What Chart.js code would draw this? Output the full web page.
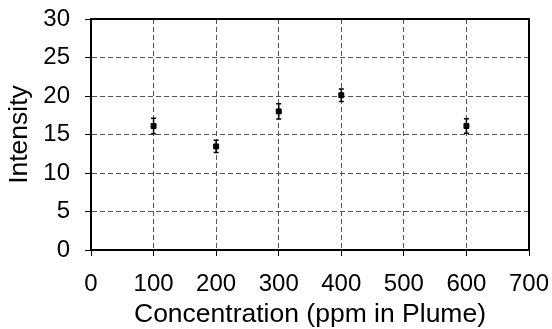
<!DOCTYPE html>
<html>
<head>
<meta charset="utf-8">
<script src="https://cdn.jsdelivr.net/npm/chart.js@4"></script>
<style>
html,body{margin:0;padding:0;background:#fff;}
#wrap{width:552px;height:329px;position:relative;}
</style>
</head>
<body>
<div id="wrap"><canvas id="c" width="552" height="329"></canvas></div>
<script>
const concentrations = [100, 200, 300, 400, 600];
const intensities = [16.1, 13.45, 18.0, 20.1, 16.1];
const errors = [1.0, 0.8, 1.0, 0.8, 0.95];
const xTicks = [0, 100, 200, 300, 400, 500, 600, 700];
const yTicks = [0, 5, 10, 15, 20, 25, 30];

const FONT = "'Liberation Sans', Arial, sans-serif";

const errorBars = {
  id: 'errorBars',
  afterDatasetsDraw(chart) {
    const ctx = chart.ctx, xs = chart.scales.x, ys = chart.scales.y;
    ctx.save();
    ctx.strokeStyle = '#000';
    ctx.lineWidth = 1.5;
    concentrations.forEach((c, i) => {
      const px = xs.getPixelForValue(c);
      const top = ys.getPixelForValue(intensities[i] + errors[i]);
      const bot = ys.getPixelForValue(intensities[i] - errors[i]);
      ctx.beginPath();
      ctx.moveTo(px, top); ctx.lineTo(px, bot);
      ctx.moveTo(px - 2.5, top); ctx.lineTo(px + 2.5, top);
      ctx.moveTo(px - 2.5, bot); ctx.lineTo(px + 2.5, bot);
      ctx.stroke();
    });
    ctx.restore();
  }
};

const frame = {
  id: 'frame',
  afterDraw(chart) {
    const a = chart.chartArea, ctx = chart.ctx;
    ctx.save();
    ctx.strokeStyle = '#000';
    ctx.lineWidth = 2;
    ctx.strokeRect(a.left, a.top, a.right - a.left, a.bottom - a.top);
    ctx.restore();
  }
};

new Chart(document.getElementById('c'), {
  type: 'scatter',
  data: {
    datasets: [{
      data: concentrations.map((x, i) => ({x: x, y: intensities[i]})),
      backgroundColor: '#000',
      borderColor: '#000',
      pointStyle: 'rect',
      pointRadius: 3.5,
      borderWidth: 1
    }]
  },
  options: {
    responsive: false,
    animation: false,
    devicePixelRatio: 1,
    layout: { padding: { left: 0, right: 23, top: 19, bottom: 0 } },
    plugins: { legend: { display: false }, tooltip: { enabled: false } },
    scales: {
      x: {
        type: 'linear', min: 0, max: 700,
        afterBuildTicks: s => { s.ticks = xTicks.map(v => ({value: v})); },
        afterFit: s => { s.height = 79; s.paddingLeft = 0; s.paddingRight = 0; },
        ticks: { color: '#000', font: { family: FONT, size: 24 }, padding: 14, maxRotation: 0, autoSkip: false },
        grid: { color: '#555', lineWidth: 1, tickColor: '#000', tickLength: 6, tickBorderDash: [] },
        border: { display: true, color: '#000', width: 2, dash: [5, 3] },
        title: { display: true, text: 'Concentration (ppm in Plume)', color: '#000',
                 font: { family: FONT, size: 26.5, lineHeight: 1.1 }, padding: { top: 0, bottom: 0 } }
      },
      y: {
        type: 'linear', min: 0, max: 30,
        afterBuildTicks: s => { s.ticks = yTicks.map(v => ({value: v})); },
        afterFit: s => { s.width = 91; s.paddingTop = 0; s.paddingBottom = 0; },
        ticks: { color: '#000', font: { family: FONT, size: 24 }, padding: 15, autoSkip: false },
        grid: { color: '#555', lineWidth: 1, tickColor: '#000', tickLength: 6, tickBorderDash: [] },
        border: { display: true, color: '#000', width: 2, dash: [5, 3] },
        title: { display: true, text: 'Intensity', color: '#000',
                 font: { family: FONT, size: 26.5, lineHeight: 1.1 }, padding: { top: 5.5, bottom: 0 } }
      }
    }
  },
  plugins: [errorBars, frame]
});
</script>
</body>
</html>
